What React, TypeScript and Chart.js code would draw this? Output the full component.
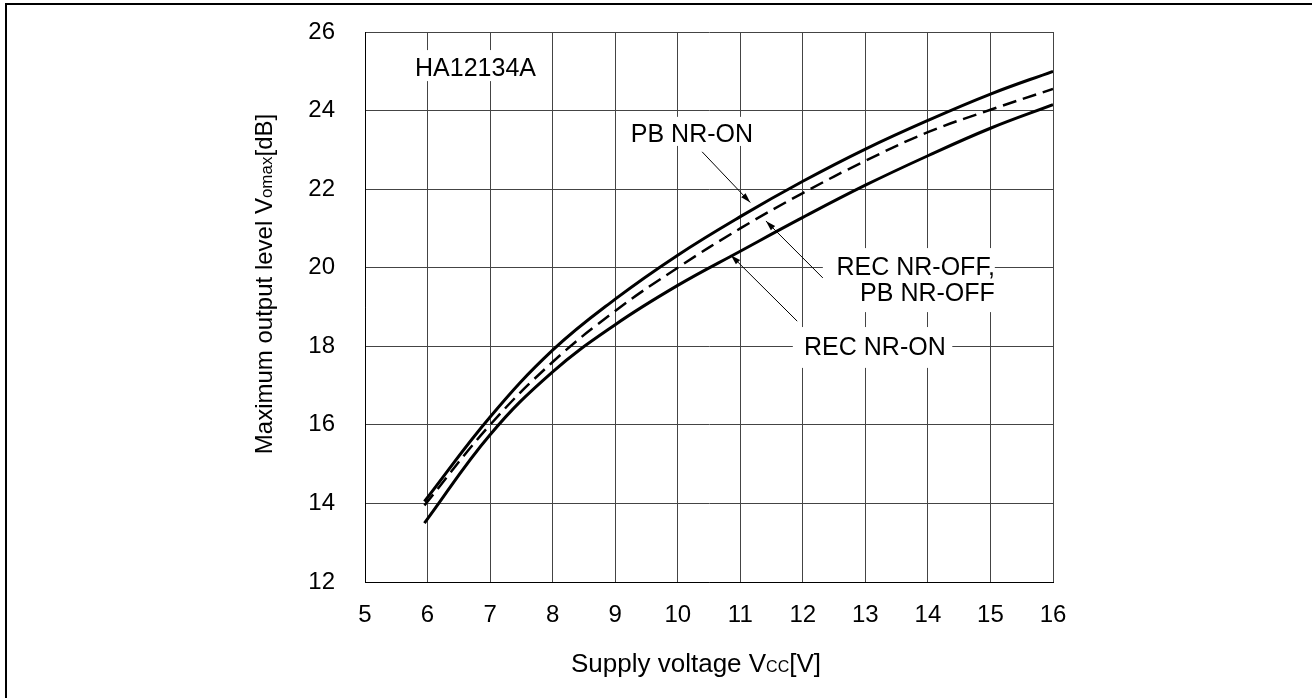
import { useEffect, useRef } from "react";
import { Chart, registerables } from "chart.js";

Chart.register(...registerables);

// ---- data ----
const supplyVoltage = [5.95, 7, 8, 9, 10, 11, 12, 13, 14, 15, 16];
const pbNrOn = [14.05, 16.2, 17.9, 19.2, 20.32, 21.3, 22.2, 23.02, 23.75, 24.42, 25.0];
const recPbNrOff = [13.95, 16.0, 17.6, 18.9, 20.0, 21.0, 21.9, 22.72, 23.45, 24.02, 24.55];
const recNrOn = [13.5, 15.75, 17.35, 18.55, 19.55, 20.42, 21.28, 22.1, 22.85, 23.55, 24.15];

const xTickValues = [5, 6, 7, 8, 9, 10, 11, 12, 13, 14, 15, 16];
const yTickValues = [12, 14, 16, 18, 20, 22, 24, 26];

const FONT = '"Liberation Sans", Arial, Helvetica, sans-serif';

// annotation texts (anchors in data units)
const labelTexts = [
  { text: "HA12134A", x: 5.8, y: 24.88, align: "left" },
  { text: "PB NR-ON", x: 9.25, y: 23.2, align: "left" },
  { text: "REC NR-OFF,", x: 15.07, y: 19.81, align: "right" },
  { text: "PB NR-OFF", x: 15.07, y: 19.15, align: "right" },
  { text: "REC NR-ON", x: 12.02, y: 17.78, align: "left" },
];
// white boxes behind labels [x1, y1, x2, y2] in data units
const labelBoxes = [
  [5.72, 25.54, 7.88, 24.75],
  [9.16, 23.84, 11.35, 23.1],
  [12.32, 20.5, 15.07, 18.87],
  [11.84, 18.49, 14.39, 17.45],
];
// leader lines [fromX, fromY, toX(arrow), toY(arrow)]
const leaders = [
  [10.39, 22.95, 11.16, 21.66],
  [12.32, 19.74, 11.41, 21.19],
  [11.91, 18.64, 10.85, 20.32],
];

function drawRich(ctx: CanvasRenderingContext2D, parts: { t: string; size: number }[], x: number, y: number) {
  let total = 0;
  for (const p of parts) {
    ctx.font = `${p.size}px ${FONT}`;
    total += ctx.measureText(p.t).width;
  }
  let cx = x - total / 2;
  ctx.textAlign = "left";
  ctx.textBaseline = "alphabetic";
  for (const p of parts) {
    ctx.font = `${p.size}px ${FONT}`;
    ctx.fillText(p.t, cx, y);
    cx += ctx.measureText(p.t).width;
  }
}

const decorPlugin = {
  id: "decor",
  afterDraw(chart: any) {
    const ctx: CanvasRenderingContext2D = chart.ctx;
    const xs = chart.scales.x;
    const ys = chart.scales.y;
    const px = (v: number) => xs.getPixelForValue(v);
    const py = (v: number) => ys.getPixelForValue(v);
    ctx.save();
    // outer frame (left + top)
    ctx.fillStyle = "#000";
    ctx.fillRect(5, 3, 2, chart.height - 3);
    ctx.fillRect(5, 3, chart.width - 5, 2);

    // white boxes
    ctx.fillStyle = "#fff";
    for (const b of labelBoxes) {
      const x1 = px(b[0]);
      const y1 = py(b[1]);
      ctx.fillRect(x1, y1, px(b[2]) - x1, py(b[3]) - y1);
    }
    // labels
    ctx.fillStyle = "#000";
    ctx.font = `25px ${FONT}`;
    ctx.textBaseline = "alphabetic";
    for (const l of labelTexts) {
      ctx.textAlign = l.align as CanvasTextAlign;
      ctx.fillText(l.text, px(l.x), py(l.y));
    }
    // leaders with arrowheads
    ctx.strokeStyle = "#000";
    ctx.lineWidth = 1;
    for (const ld of leaders) {
      const x1 = px(ld[0]), y1 = py(ld[1]), x2 = px(ld[2]), y2 = py(ld[3]);
      ctx.beginPath();
      ctx.moveTo(x1, y1);
      ctx.lineTo(x2, y2);
      ctx.stroke();
      const ang = Math.atan2(y2 - y1, x2 - x1);
      const L = 10, W = 3;
      ctx.beginPath();
      ctx.moveTo(x2, y2);
      ctx.lineTo(x2 - L * Math.cos(ang) + W * Math.sin(ang), y2 - L * Math.sin(ang) - W * Math.cos(ang));
      ctx.lineTo(x2 - L * Math.cos(ang) - W * Math.sin(ang), y2 - L * Math.sin(ang) + W * Math.cos(ang));
      ctx.closePath();
      ctx.fill();
    }
    // axis titles
    drawRich(ctx, [
      { t: "Supply voltage V", size: 26 },
      { t: "CC", size: 16 },
      { t: "[V]", size: 26 },
    ], 696, 672);
    ctx.save();
    ctx.translate(272, 284);
    ctx.rotate(-Math.PI / 2);
    drawRich(ctx, [
      { t: "Maximum output level V", size: 24 },
      { t: "omax", size: 17 },
      { t: "[dB]", size: 24 },
    ], 0, 0);
    ctx.restore();
    ctx.restore();
  },
};

export default function App() {
  const ref = useRef<HTMLCanvasElement | null>(null);
  useEffect(() => {
    if (!ref.current) return;
    const mk = (ys: number[]) => supplyVoltage.map((x, i) => ({ x, y: ys[i] }));
    const common = {
      borderColor: "#000",
      borderWidth: 3,
      pointRadius: 0,
      showLine: true,
      fill: false,
      tension: 0.4,
    };
    const chart = new Chart(ref.current, {
      type: "scatter",
      data: {
        datasets: [
          { label: "PB NR-ON", data: mk(pbNrOn), ...common },
          { label: "REC NR-OFF, PB NR-OFF", data: mk(recPbNrOff), ...common, borderWidth: 2.5, borderDash: [14, 7] },
          { label: "REC NR-ON", data: mk(recNrOn), ...common },
        ],
      },
      options: {
        animation: false,
        responsive: false,
        devicePixelRatio: 1,
        layout: { padding: { left: 0, top: 32, right: 259, bottom: 0 } },
        plugins: { legend: { display: false }, tooltip: { enabled: false } },
        scales: {
          x: {
            type: "linear",
            min: 5,
            max: 16,
            afterBuildTicks: (s: any) => { s.ticks = xTickValues.map((v) => ({ value: v })); },
            afterFit: (s: any) => { s.height = 116; s.paddingLeft = 0; s.paddingRight = 0; },
            ticks: { color: "#000", font: { size: 24, family: FONT }, padding: 19 },
            grid: { color: "#444", lineWidth: 1, drawTicks: false },
            border: { color: "#000", width: 1 },
          },
          y: {
            type: "linear",
            min: 12,
            max: 26,
            afterBuildTicks: (s: any) => { s.ticks = yTickValues.map((v) => ({ value: v })); },
            afterFit: (s: any) => { s.width = 365; s.paddingTop = 0; s.paddingBottom = 0; },
            ticks: { color: "#000", font: { size: 24, family: FONT }, padding: 30 },
            grid: { color: "#444", lineWidth: 1, drawTicks: false },
            border: { color: "#000", width: 1 },
          },
        },
      },
      plugins: [decorPlugin],
    });
    return () => chart.destroy();
  }, []);
  return (
    <div style={{ position: "absolute", left: 0, top: 0, width: 1312, height: 698, background: "#fff" }}>
      <canvas ref={ref} width={1312} height={698} style={{ display: "block" }} />
    </div>
  );
}
